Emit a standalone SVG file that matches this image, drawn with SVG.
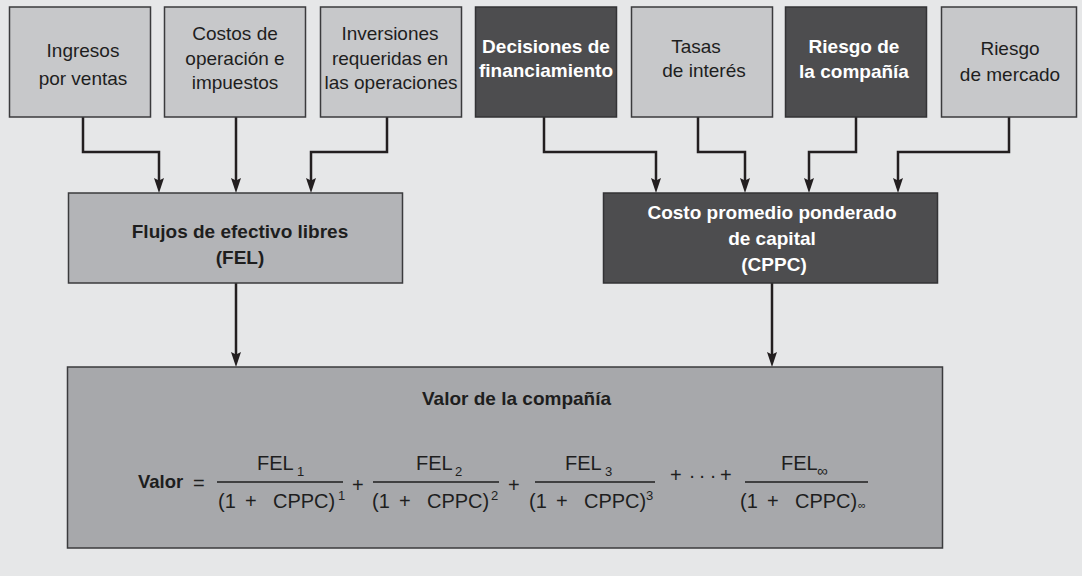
<svg xmlns="http://www.w3.org/2000/svg" width="1082" height="576" viewBox="0 0 1082 576">
<defs>
<style>
text{font-family:"Liberation Sans",Arial,Helvetica,sans-serif;fill:#1e1e1e}
.lt{fill:#c7c8ca;stroke:#3b3b3d;stroke-width:1.5}
.dk{fill:#4d4d4f;stroke:#333335;stroke-width:1.5}
.fel{fill:#b3b4b7;stroke:#3b3b3d;stroke-width:1.5}
.val{fill:#a7a8ab;stroke:#3b3b3d;stroke-width:1.5}
.t{font-size:19px;text-anchor:middle}
.tw{font-size:19px;text-anchor:middle;font-weight:bold;fill:#ffffff}
.tb{font-size:19px;text-anchor:middle;font-weight:bold}
.m{font-size:20px}
.s{font-size:13px}
.fl{stroke:#1e1e1e;stroke-width:1.6}
.cn path{fill:none;stroke:#231f20;stroke-width:2.5;marker-end:url(#ah)}
</style>
<marker id="ah" viewBox="0 0 15 10" markerWidth="15" markerHeight="10" refX="7" refY="5" orient="auto" markerUnits="userSpaceOnUse">
<path d="M0,0 L15,5 L0,10 L2.5,5 Z" fill="#231f20"/>
</marker>
</defs>
<rect x="0" y="0" width="1082" height="576" fill="#e6e7e8"/>

<g class="cn" id="connectors">
<path d="M83,117 V152 H159 V185"/>
<path d="M236,117 V185"/>
<path d="M387,117 V152 H311 V185"/>
<path d="M544,117 V152 H656 V185"/>
<path d="M698,117 V152 H745 V185"/>
<path d="M856,117 V152 H809 V185"/>
<path d="M1009,117 V152 H898 V185"/>
<path d="M236,283 V359"/>
<path d="M772,283 V359"/>
</g>

<g id="ingresos">
<rect class="lt" x="9.5" y="7" width="141" height="110"/>
<text class="t" x="83" y="57">Ingresos</text>
<text class="t" x="83" y="85">por ventas</text>
</g>
<g id="costos">
<rect class="lt" x="164.5" y="7" width="141" height="110"/>
<text class="t" x="235" y="40">Costos de</text>
<text class="t" x="235" y="65">operación e</text>
<text class="t" x="235" y="89">impuestos</text>
</g>
<g id="inversiones">
<rect class="lt" x="320.5" y="7" width="141" height="110"/>
<text class="t" x="390" y="40">Inversiones</text>
<text class="t" x="390" y="65">requeridas en</text>
<text class="t" x="391" y="89">las operaciones</text>
</g>
<g id="decisiones">
<rect class="dk" x="475.5" y="7" width="141" height="110"/>
<text class="tw" x="546" y="53">Decisiones de</text>
<text class="tw" x="546" y="77">financiamiento</text>
</g>
<g id="tasas">
<rect class="lt" x="631.5" y="7" width="141" height="110"/>
<text class="t" x="696" y="53">Tasas</text>
<text class="t" x="704" y="77">de interés</text>
</g>
<g id="riesgo-compania">
<rect class="dk" x="785.5" y="7" width="141" height="110"/>
<text class="tw" x="854" y="53">Riesgo de</text>
<text class="tw" x="854" y="78">la compañía</text>
</g>
<g id="riesgo-mercado">
<rect class="lt" x="941.5" y="7" width="135" height="110"/>
<text class="t" x="1010" y="55">Riesgo</text>
<text class="t" x="1010" y="81">de mercado</text>
</g>

<g id="fel">
<rect class="fel" x="68.5" y="193" width="334" height="90"/>
<text class="tb" x="240" y="238">Flujos de efectivo libres</text>
<text class="tb" x="240" y="264">(FEL)</text>
</g>
<g id="cppc">
<rect class="dk" x="603.5" y="193" width="334" height="90"/>
<text class="tw" x="772" y="219">Costo promedio ponderado</text>
<text class="tw" x="772" y="245">de capital</text>
<text class="tw" x="774" y="271">(CPPC)</text>
</g>

<g id="valor">
<rect class="val" x="67.5" y="367" width="875" height="181"/>
<text class="tb" x="516.5" y="405">Valor de la compañía</text>
<text x="138" y="488" style="font-size:18.5px;font-weight:bold">Valor</text>
<text class="m" x="193" y="490">=</text>

<text class="m" x="257" y="470">FEL</text><text class="s" x="297" y="476">1</text>
<line class="fl" x1="217" y1="482" x2="343" y2="482"/>
<text class="m" x="218" y="508">(1</text><text class="m" x="245" y="508">+</text><text class="m" x="273" y="508">CPPC)</text><text class="s" x="338" y="500">1</text>

<text class="m" x="352" y="492">+</text>

<text class="m" x="416" y="470">FEL</text><text class="s" x="455" y="476">2</text>
<line class="fl" x1="373" y1="482" x2="499" y2="482"/>
<text class="m" x="372" y="508">(1</text><text class="m" x="399" y="508">+</text><text class="m" x="427" y="508">CPPC)</text><text class="s" x="491" y="500">2</text>

<text class="m" x="508" y="492">+</text>

<text class="m" x="565" y="470">FEL</text><text class="s" x="605" y="476">3</text>
<line class="fl" x1="535" y1="482" x2="655" y2="482"/>
<text class="m" x="529" y="508">(1</text><text class="m" x="556" y="508">+</text><text class="m" x="584" y="508">CPPC)</text><text class="s" x="646" y="500">3</text>

<text class="m" x="670" y="482">+</text>
<text class="m" x="692" y="482" text-anchor="middle">·</text>
<text class="m" x="702" y="482" text-anchor="middle">·</text>
<text class="m" x="713" y="482" text-anchor="middle">·</text>
<text class="m" x="720" y="482">+</text>

<text class="m" x="781" y="470">FEL</text><text x="817" y="476" style="font-size:15px">∞</text>
<line class="fl" x1="745" y1="482" x2="868" y2="482"/>
<text class="m" x="740" y="508">(1</text><text class="m" x="767" y="508">+</text><text class="m" x="795" y="508">CPPC)</text><text x="858" y="509" style="font-size:11px">∞</text>
</g>
</svg>
